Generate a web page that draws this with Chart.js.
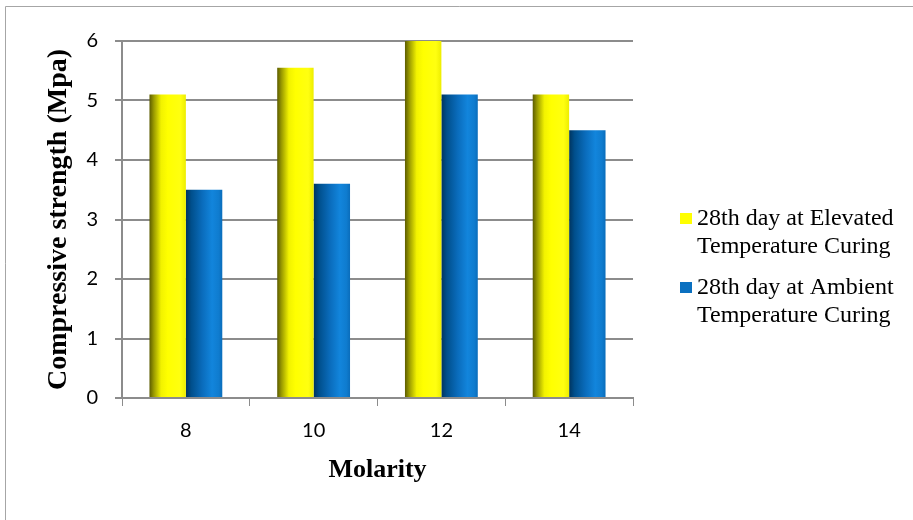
<!DOCTYPE html>
<html>
<head>
<meta charset="utf-8">
<script src="https://cdn.jsdelivr.net/npm/chart.js@4.4.1/dist/chart.umd.min.js"></script>
<style>
  html, body { margin: 0; padding: 0; background: #ffffff; }
  #wrap { width: 913px; height: 520px; position: relative; }
</style>
</head>
<body>
<div id="wrap"><canvas id="chart" width="913" height="520"></canvas></div>
<script>
// Molarity of the activator solution (x categories)
const molarity = ['8', '10', '12', '14'];
// Compressive strength, MPa
const elevatedCuring = [5.1, 5.55, 6.0, 5.1];
const ambientCuring = [3.5, 3.6, 5.1, 4.5];
// Legend text, split over two lines
const seriesNames = [
  ['28th day at Elevated', 'Temperature Curing'],
  ['28th day at Ambient', 'Temperature Curing']
];
const yTicks = [0, 1, 2, 3, 4, 5, 6];

const SERIF = "'Liberation Serif', 'Times New Roman', serif";
const SANS = "Lato, 'Open Sans', sans-serif";
const GRID = '#8c8c8c';

// Cylinder-like shading for each bar, left edge dark to bright highlight
const shades = [
  [[0, '#5c5c00'], [0.12, '#9a9a00'], [0.32, '#f2f200'], [0.5, '#ffff00'], [0.85, '#ffff10'], [1, '#eded00']],
  [[0, '#00345f'], [0.15, '#004f8c'], [0.45, '#0a6cbc'], [0.72, '#1285dc'], [0.9, '#0f7ccf'], [1, '#0a6dbb']]
];

const shadePlugin = {
  id: 'barShade',
  beforeDatasetsDraw(chart) {
    const ctx = chart.ctx;
    chart.data.datasets.forEach((ds, di) => {
      const meta = chart.getDatasetMeta(di);
      meta.data.forEach(el => {
        const { x, width } = el.getProps(['x', 'width'], true);
        const g = ctx.createLinearGradient(x - width / 2, 0, x + width / 2, 0);
        shades[di].forEach(([p, c]) => g.addColorStop(p, c));
        el.options = Object.assign({}, el.options, { backgroundColor: g });
      });
    });
  }
};

const framePlugin = {
  id: 'frame',
  beforeDraw(chart) {
    const ctx = chart.ctx;
    ctx.save();
    ctx.fillStyle = '#ffffff';
    ctx.fillRect(0, 0, chart.width, chart.height);
    ctx.strokeStyle = '#a6a6a6';
    ctx.lineWidth = 1;
    ctx.beginPath();
    ctx.moveTo(5.5, chart.height);
    ctx.lineTo(5.5, 6.5);
    ctx.lineTo(chart.width, 6.5);
    ctx.stroke();
    ctx.restore();
  }
};

const legendPlugin = {
  id: 'sideLegend',
  afterDraw(chart) {
    const ctx = chart.ctx;
    const area = chart.chartArea;
    const boxX = area.right + 47;
    const textX = boxX + 17;
    const firstBaseline = 225;
    const entryGap = 69;
    const lineGap = 28;
    ctx.save();
    ctx.font = '24px ' + SERIF;
    ctx.textAlign = 'left';
    ctx.textBaseline = 'alphabetic';
    chart.data.datasets.forEach((ds, i) => {
      const base = firstBaseline + i * entryGap;
      ctx.fillStyle = ds.legendColor;
      ctx.fillRect(boxX, base - 12, 12, 11);
      ctx.fillStyle = '#000000';
      seriesNames[i].forEach((line, li) => {
        ctx.fillText(line, textX, base + li * lineGap);
      });
    });
    ctx.restore();
  }
};

new Chart(document.getElementById('chart'), {
  type: 'bar',
  data: {
    labels: molarity,
    datasets: [
      {
        label: seriesNames[0].join(' '),
        data: elevatedCuring,
        backgroundColor: '#ffff00',
        legendColor: '#ffff00',
        borderWidth: 0,
        categoryPercentage: 0.57,
        barPercentage: 1.0
      },
      {
        label: seriesNames[1].join(' '),
        data: ambientCuring,
        backgroundColor: '#0a70c0',
        legendColor: '#0a70c0',
        borderWidth: 0,
        categoryPercentage: 0.57,
        barPercentage: 1.0
      }
    ]
  },
  options: {
    responsive: false,
    animation: false,
    layout: { padding: { left: 0, right: 280, top: 41, bottom: 0 } },
    plugins: {
      legend: { display: false },
      tooltip: { enabled: false }
    },
    scales: {
      x: {
        afterFit(scale) { scale.height = 122; },
        grid: {
          display: true,
          offset: true,
          drawOnChartArea: false,
          drawTicks: true,
          tickLength: 8,
          color: GRID,
          lineWidth: 1
        },
        border: { display: true, color: GRID, width: 2 },
        ticks: {
          color: '#000000',
          font: { family: SANS, size: 20 },
          padding: 13
        },
        title: {
          display: true,
          text: 'Molarity',
          color: '#000000',
          font: { family: SERIF, size: 26, weight: 'bold' },
          padding: { top: 0, bottom: 34 }
        }
      },
      y: {
        min: yTicks[0],
        max: yTicks[yTicks.length - 1],
        afterFit(scale) { scale.width = 122; },
        afterBuildTicks(scale) { scale.ticks = yTicks.map(v => ({ value: v })); },
        grid: {
          display: true,
          drawTicks: true,
          tickLength: 7,
          color: GRID,
          lineWidth: 2
        },
        border: { display: true, color: GRID, width: 2 },
        ticks: {
          color: '#000000',
          font: { family: SANS, size: 20 },
          padding: 17
        },
        title: {
          display: true,
          text: 'Compressive strength (Mpa)',
          color: '#000000',
          font: { family: SERIF, size: 28, weight: 'bold' },
          padding: { top: 42, bottom: 0 }
        }
      }
    }
  },
  plugins: [framePlugin, shadePlugin, legendPlugin]
});
</script>
</body>
</html>
